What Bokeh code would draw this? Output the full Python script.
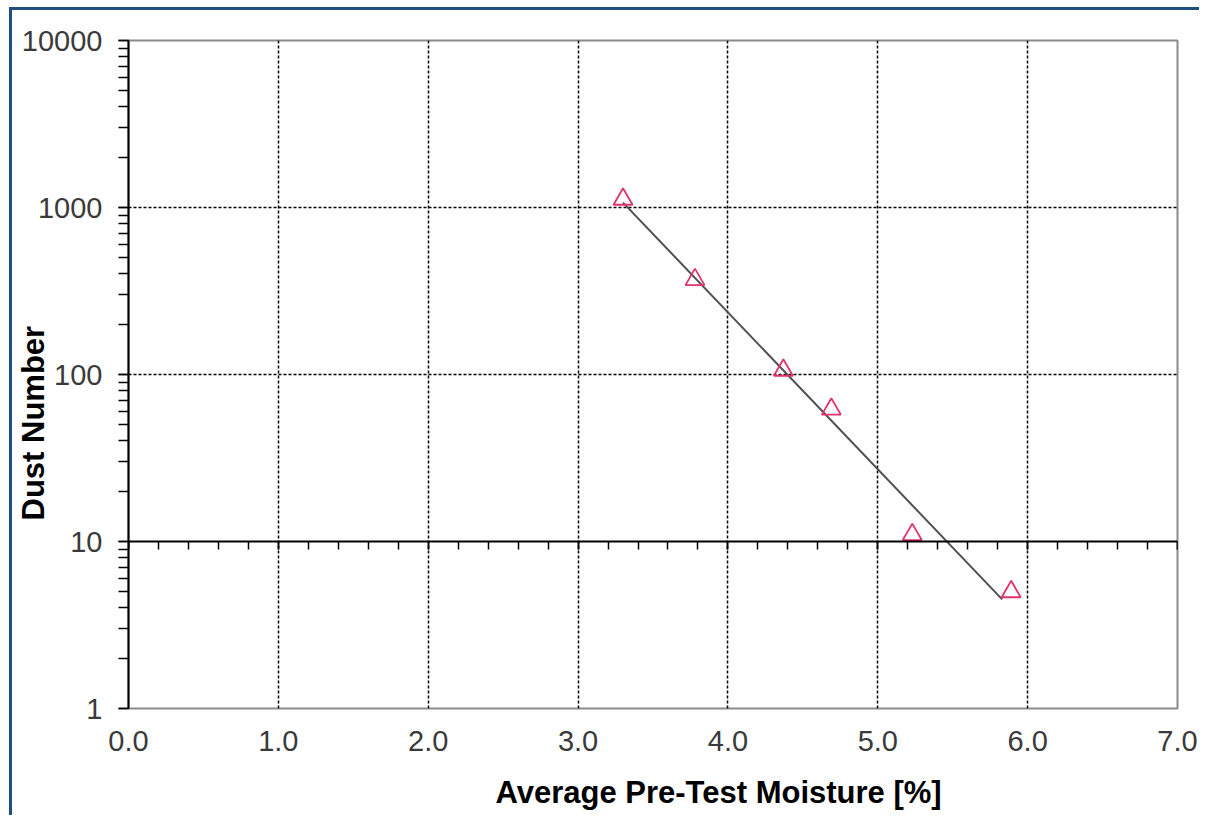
from bokeh.plotting import figure
from bokeh.models import (LinearAxis, FixedTicker, SingleIntervalTicker, Range1d,
                          PrintfTickFormatter, LogTicker, CustomJSTickFormatter, Title)
from bokeh.embed import file_html
from bokeh.resources import INLINE

# ---- data ----
moisture = [3.30, 3.78, 4.37, 4.69, 5.23, 5.89]
dust_number = [1120, 370, 106, 62, 11, 5.0]
trend_x = [3.30, 5.83]
trend_y = [1070, 4.5]

x_title = "Average Pre-Test Moisture [%]"
y_title = "Dust Number"

FONT = "Liberation Sans"

p = figure(width=1190, height=808,
           x_range=Range1d(0, 7), y_range=Range1d(1, 10000),
           y_axis_type="log", output_backend="svg", toolbar_location=None,
           min_border_left=116, min_border_right=25, min_border_top=30,
           min_border_bottom=110, background_fill_color="white",
           border_fill_color="white")
p.styles = {"margin-left": "9px", "margin-top": "7px",
            "border-left": "3px solid #1d4f7f", "border-top": "3px solid #1d4f7f"}

p.outline_line_color = "#8a8a8a"
p.outline_line_width = 2

# bottom x axis: labels only
xa = p.xaxis[0]
xa.ticker = SingleIntervalTicker(interval=1, num_minor_ticks=0)
xa.formatter = PrintfTickFormatter(format="%.1f")
xa.axis_line_color = None
xa.major_tick_out = 0
xa.major_tick_in = 0
xa.minor_tick_out = 0
xa.minor_tick_in = 0
xa.major_label_text_font = FONT
xa.major_label_text_font_size = "29px"
xa.major_label_text_color = "#3a3a3a"
xa.major_label_standoff = 22

# x axis line crossing at y = 10
xa2 = LinearAxis(fixed_location=10,
                 ticker=SingleIntervalTicker(interval=1, num_minor_ticks=5),
                 formatter=CustomJSTickFormatter(code="return ''"))
xa2.axis_line_color = "black"
xa2.axis_line_width = 2
xa2.major_tick_out = 8
xa2.major_tick_in = 0
xa2.minor_tick_out = 8
xa2.minor_tick_in = 0
xa2.major_tick_line_width = 1.5
xa2.minor_tick_line_width = 1.5
xa2.major_tick_line_color = "black"
xa2.minor_tick_line_color = "black"
xa2.major_label_text_font_size = "1px"
p.add_layout(xa2, "below")

# invisible spacer between the tick labels and the x title
spacer = LinearAxis(ticker=SingleIntervalTicker(interval=1, num_minor_ticks=0),
                    formatter=CustomJSTickFormatter(code="return ''"),
                    axis_line_color=None, major_tick_out=21, major_tick_in=0,
                    minor_tick_out=0, minor_tick_in=0,
                    major_tick_line_color=None, minor_tick_line_color=None,
                    major_label_standoff=0, major_label_text_font_size="1px")
p.add_layout(spacer, "below")

# y axis
ya = p.yaxis[0]
ya.ticker = LogTicker(num_minor_ticks=10)
ya.formatter = PrintfTickFormatter(format="%d")
ya.axis_line_color = "black"
ya.axis_line_width = 2
ya.major_tick_out = 10
ya.major_tick_in = 0
ya.minor_tick_out = 10
ya.minor_tick_in = 0
ya.major_tick_line_width = 1.5
ya.minor_tick_line_width = 1.5
ya.major_tick_line_color = "black"
ya.minor_tick_line_color = "black"
ya.major_label_text_font = FONT
ya.major_label_text_font_size = "29px"
ya.major_label_text_color = "#3a3a3a"
ya.major_label_standoff = 16

# axis titles (off-centre like the reference; negative standoff pulls the
# y title into the tick-label column)
p.add_layout(Title(text=y_title, align="left", offset=188, vertical_align="bottom",
                   standoff=-64, text_font=FONT, text_font_size="31px",
                   text_font_style="bold", text_color="black"), "left")
p.add_layout(Title(text=x_title, align="left", offset=367, vertical_align="top",
                   standoff=0, text_font=FONT, text_font_size="31px",
                   text_font_style="bold", text_color="black"), "below")

# grids
p.xgrid.ticker = FixedTicker(ticks=[1, 2, 3, 4, 5, 6])
p.ygrid.ticker = FixedTicker(ticks=[100, 1000])
for g in (p.xgrid[0], p.ygrid[0]):
    g.grid_line_color = "black"
    g.grid_line_dash = "3 2"
    g.grid_line_width = 1.5
    g.grid_line_alpha = 1.0

# trend line and points
p.line(trend_x, trend_y, line_color="#505050", line_width=2)
p.scatter(moisture, dust_number, marker="triangle", size=19,
          fill_color=None, line_color="#e2336a", line_width=1.8)

open("out.html", "w").write(file_html(p, INLINE))
